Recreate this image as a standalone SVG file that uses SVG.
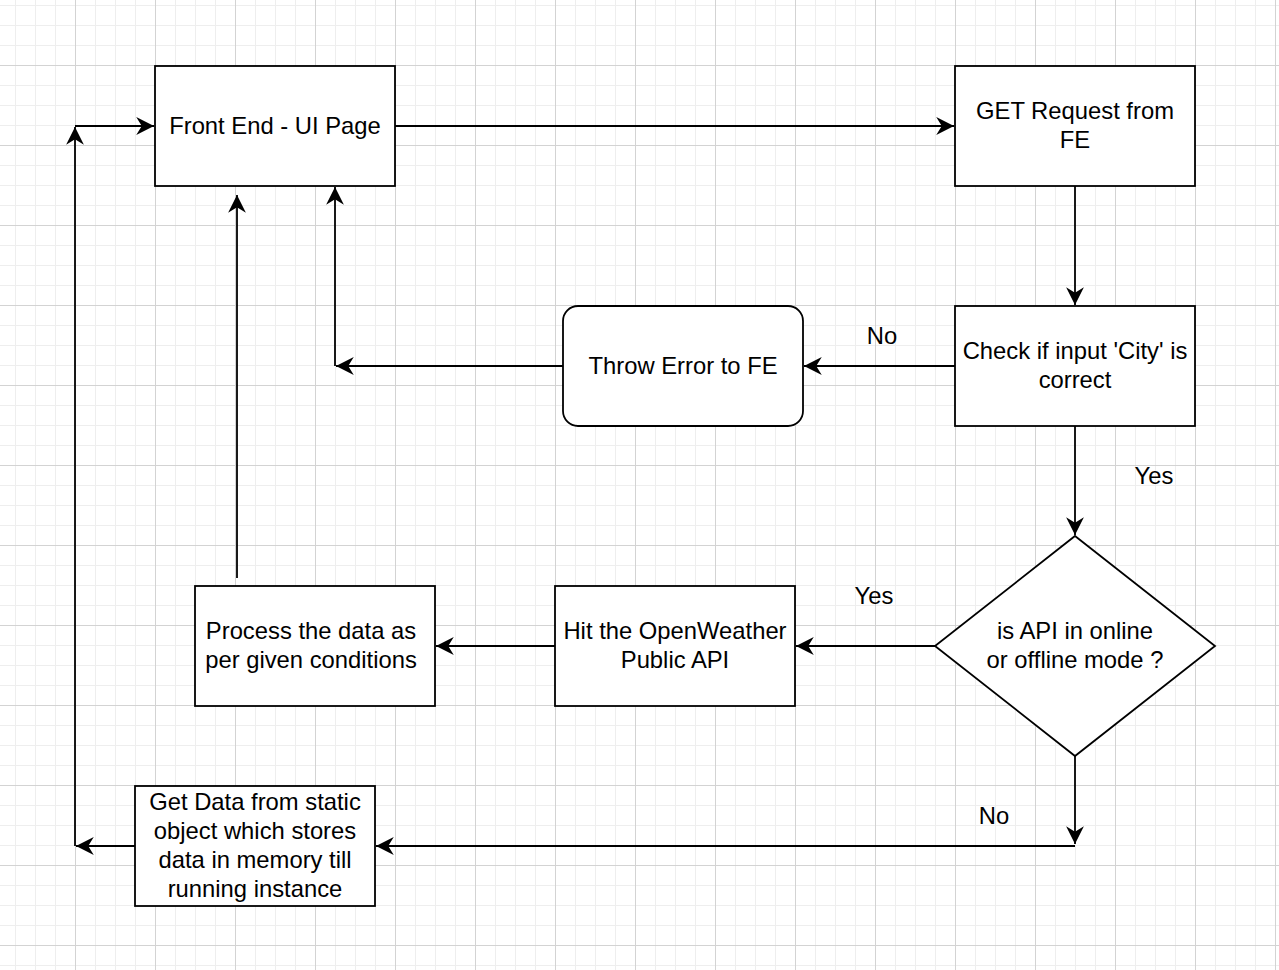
<svg xmlns="http://www.w3.org/2000/svg" width="1279" height="970" viewBox="0 0 1279 970">
<style>
.box{fill:#fff;stroke:#000;stroke-width:1.8}
.t{font-family:"Liberation Sans",Arial,Helvetica,sans-serif;font-size:23.8px;fill:#000;text-anchor:middle}
.e{fill:none;stroke:#000;stroke-width:1.8}
</style>
<defs>
<pattern id="gmin" x="15" y="5" width="20" height="20" patternUnits="userSpaceOnUse">
<path d="M0.5 0V20M0 0.5H20" stroke="#eeeeee" stroke-width="1" fill="none"/>
</pattern>
<pattern id="gmaj" x="75" y="65" width="80" height="80" patternUnits="userSpaceOnUse">
<path d="M0.5 0V80M0 0.5H80" stroke="#d3d3d3" stroke-width="1" fill="none"/>
</pattern>
<marker id="ar" markerUnits="userSpaceOnUse" markerWidth="20" markerHeight="20" viewBox="-17 -9 18 18" refX="0" refY="0" orient="auto">
<path d="M0 0L-16 -8L-11 0L-16 8Z" fill="#000"/>
</marker>
</defs>
<rect width="1279" height="970" fill="#fff"/>
<rect width="1279" height="970" fill="url(#gmin)"/>
<rect width="1279" height="970" fill="url(#gmaj)"/>

<g id="connectors">
<path class="e" d="M395 126H954" marker-end="url(#ar)"/>
<path class="e" d="M1075 186V305" marker-end="url(#ar)"/>
<path class="e" d="M955 366H804" marker-end="url(#ar)"/>
<path class="e" d="M563 366H336" marker-end="url(#ar)"/>
<path class="e" d="M335 366V187" marker-end="url(#ar)"/>
<path class="e" d="M1075 426V535" marker-end="url(#ar)"/>
<path class="e" d="M935 646H796" marker-end="url(#ar)"/>
<path class="e" d="M555 646H436" marker-end="url(#ar)"/>
<path class="e" d="M237 578V195" marker-end="url(#ar)"/>
<path class="e" d="M1075 756V844" marker-end="url(#ar)"/>
<path class="e" d="M1075 846H376" marker-end="url(#ar)"/>
<path class="e" d="M135 846H76" marker-end="url(#ar)"/>
<path class="e" d="M75 846V127" marker-end="url(#ar)"/>
<path class="e" d="M75 126H154" marker-end="url(#ar)"/>
<text class="t" x="882" y="344">No</text>
<text class="t" x="1154" y="484">Yes</text>
<text class="t" x="874" y="604">Yes</text>
<text class="t" x="994" y="824">No</text>
</g>

<g id="fe">
<rect class="box" x="155" y="66" width="240" height="120"/>
<text class="t" x="275" y="134">Front End - UI Page</text>
</g>
<g id="get">
<rect class="box" x="955" y="66" width="240" height="120"/>
<text class="t" x="1075" y="119">GET Request from</text>
<text class="t" x="1075" y="148">FE</text>
</g>
<g id="check">
<rect class="box" x="955" y="306" width="240" height="120"/>
<text class="t" x="1075" y="359">Check if input 'City' is</text>
<text class="t" x="1075" y="388">correct</text>
</g>
<g id="throw">
<rect class="box" x="563" y="306" width="240" height="120" rx="15" ry="15"/>
<text class="t" x="683" y="374">Throw Error to FE</text>
</g>
<g id="decision">
<path class="box" d="M1075 536L1215 646L1075 756L935 646Z"/>
<text class="t" x="1075" y="639">is API in online</text>
<text class="t" x="1075" y="668">or offline mode ?</text>
</g>
<g id="hit">
<rect class="box" x="555" y="586" width="240" height="120"/>
<text class="t" x="675" y="639">Hit the OpenWeather</text>
<text class="t" x="675" y="668">Public API</text>
</g>
<g id="process">
<rect class="box" x="195" y="586" width="240" height="120"/>
<text class="t" x="311" y="639">Process the data as</text>
<text class="t" x="311" y="668">per given conditions</text>
</g>
<g id="static">
<rect class="box" x="135" y="786" width="240" height="120"/>
<text class="t" x="255" y="810">Get Data from static</text>
<text class="t" x="255" y="839">object which stores</text>
<text class="t" x="255" y="868">data in memory till</text>
<text class="t" x="255" y="897">running instance</text>
</g>
</svg>
